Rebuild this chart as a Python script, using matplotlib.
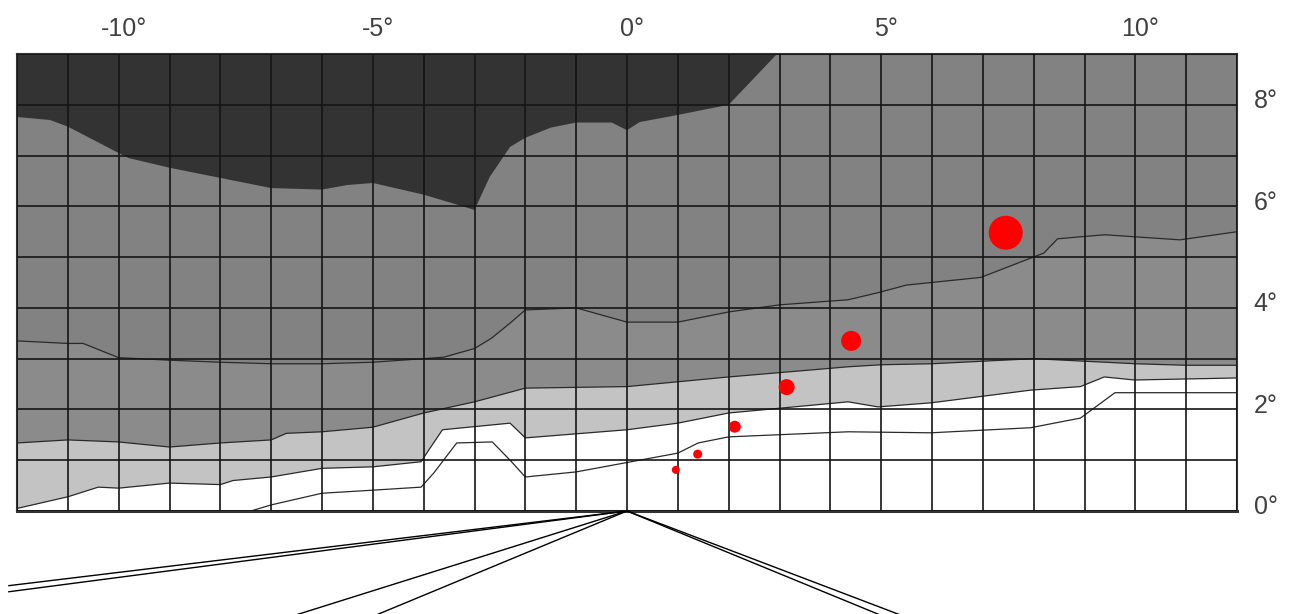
import matplotlib.pyplot as plt
import matplotlib.transforms as mtransforms
import numpy as np

plt.rcParams['font.family'] = ['Liberation Sans', 'DejaVu Sans']

# Dark zone upper boundary (dark above)
dark_x = [-12, -11.35, -11, -10, -9.8, -9, -8, -7, -6, -5.5, -5, -4, -3, -2.7, -2.3, -2,
          -1.5, -1, -0.3, 0, 0.25, 1, 2, 2.95]
dark_y = [7.76, 7.7, 7.57, 7.05, 6.95, 6.76, 6.56, 6.36, 6.33, 6.42, 6.46, 6.23, 5.93, 6.58,
          7.17, 7.35, 7.55, 7.65, 7.65, 7.5, 7.66, 7.8, 8.0, 9.0]

# Contour A (darker gray above, mid gray below)
a_x = [-12, -11, -10.7, -10, -9, -8, -7, -6, -5, -4, -3.6, -3, -2.67, -2.3, -2, -1, 0, 1, 2, 3,
       4.35, 4.94, 5.5, 6.96, 7.94, 8.2, 8.47, 8.92, 9.4, 10.88, 12]
a_y = [3.35, 3.3, 3.3, 3.02, 2.97, 2.93, 2.9, 2.9, 2.93, 3.0, 3.03, 3.2, 3.4, 3.7, 3.96, 4.0,
       3.72, 3.72, 3.92, 4.06, 4.16, 4.3, 4.45, 4.6, 4.98, 5.08, 5.36, 5.4, 5.44, 5.34, 5.5]

# Contour C (gray above, light gray below)
c_x = [-12, -11, -10, -9, -8, -7, -6.7, -6, -5, -4, -3, -2, 0, 2, 4.35, 5, 6, 7, 8, 9, 10, 11, 12]
c_y = [1.34, 1.4, 1.36, 1.26, 1.34, 1.4, 1.53, 1.56, 1.65, 1.93, 2.15, 2.42, 2.45, 2.64, 2.84,
       2.88, 2.9, 2.95, 3.0, 2.95, 2.9, 2.87, 2.87]

# Contour D (light gray above, white below)
d_x = [-12, -11, -10.4, -10, -9, -8, -7.75, -7, -6, -5, -4.05, -3.9, -3.63, -2.3, -2, 0, 1, 2,
       4.35, 4.94, 5.98, 7.94, 8.92, 9.39, 9.98, 12]
d_y = [0.05, 0.28, 0.47, 0.45, 0.55, 0.52, 0.6, 0.67, 0.84, 0.87, 0.97, 1.2, 1.6, 1.73, 1.44,
       1.6, 1.73, 1.93, 2.15, 2.05, 2.13, 2.38, 2.45, 2.64, 2.58, 2.62]

# Contour E (inside the white zone)
e_x = [-7.4, -7, -6, -5, -4.05, -3.8, -3.35, -2.65, -2.3, -2, -1, 1, 1.4, 2, 4.35, 5.98, 7.94,
       8.92, 9.6, 12]
e_y = [0.0, 0.12, 0.35, 0.41, 0.47, 0.75, 1.34, 1.36, 1.0, 0.67, 0.77, 1.14, 1.34, 1.46, 1.56,
       1.54, 1.64, 1.83, 2.33, 2.33]

# red points
pt_x = [7.45, 4.41, 3.14, 2.12, 1.39, 0.96]
pt_y = [5.48, 3.35, 2.44, 1.66, 1.12, 0.81]
pt_d = [34, 20, 16, 12, 9, 8]  # diameter, px

# fan lines from the origin (end points, below the chart)
fan_x = [-12.16, -12.16, -7.0, -5.3, 5.35, 5.78]
fan_y = [-1.47, -1.59, -2.2, -2.2, -2.2, -2.2]

xticks = list(range(-12, 13))
yticks = list(range(0, 10))
xlabels = ['%d°' % v if v % 5 == 0 else '' for v in xticks]
ylabels = ['%d°' % v if v % 2 == 0 and v < 9 else '' for v in yticks]

fig = plt.figure(figsize=(12.95, 6.14), dpi=100)
ax = fig.add_axes([17 / 1295, 103 / 614, 1220 / 1295, 457 / 614])
ax.set_xlim(-12, 12)
ax.set_ylim(0, 9)
ax.set_facecolor('#828282')

# layers, top to bottom
ax.fill(a_x + [12, -12], a_y + [0, 0], color='#8b8b8b', lw=0)
ax.fill(c_x + [12, -12], c_y + [0, 0], color='#c3c3c3', lw=0)
ax.fill(d_x + [12, -12], d_y + [0, 0], color='white', lw=0)
ax.fill(dark_x + [-12], dark_y + [9], color='#333333', lw=0)

for xs, ys in [(a_x, a_y), (c_x, c_y), (d_x, d_y), (e_x, e_y)]:
    ax.plot(xs, ys, color='#2a2a2a', lw=0.9)

ax.scatter(pt_x, pt_y, s=[(d * 0.72) ** 2 for d in pt_d], color='#ff0000', lw=0, zorder=4)

for fx, fy in zip(fan_x, fan_y):
    ax.plot([0, fx], [0, fy], color='black', lw=1.0, clip_on=False, zorder=4)

ax.set_xticks(xticks)
ax.set_xticklabels(xlabels)
ax.set_yticks(yticks)
ax.set_yticklabels(ylabels)
ax.xaxis.tick_top()
ax.yaxis.tick_right()
ax.tick_params(length=0, labelsize=18, labelcolor='#404040')
ax.tick_params(axis='x', pad=9)
ax.tick_params(axis='y', pad=12)
ax.grid(True, color='#151515', lw=1.2)
ax.set_axisbelow(False)

for sp in ax.spines.values():
    sp.set_color('#333333')
    sp.set_linewidth(1.5)
ax.spines['bottom'].set_linewidth(2.2)

# small offsets of the labels as in the original
for lbl in ax.get_xticklabels():
    lbl.set_transform(lbl.get_transform() + mtransforms.ScaledTranslation(5 / 100, 0, fig.dpi_scale_trans))
for lbl in ax.get_yticklabels():
    lbl.set_transform(lbl.get_transform() + mtransforms.ScaledTranslation(0, 6 / 100, fig.dpi_scale_trans))

plt.savefig('out.png', dpi=100)
